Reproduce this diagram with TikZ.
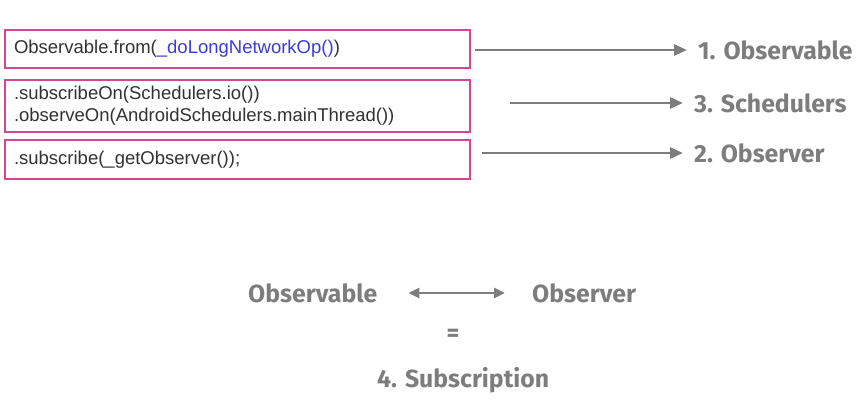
\documentclass[tikz,border=0pt]{standalone}
\usepackage{fontspec}
\setmainfont{Liberation Sans}
\newfontfamily\handfont{Fira Sans}
\usepackage{xcolor}
\usetikzlibrary{arrows.meta,positioning}

\definecolor{boxpink}{RGB}{206,72,150}
\definecolor{codegray}{RGB}{50,50,50}
\definecolor{codeblue}{RGB}{60,60,210}
\definecolor{labelgray}{RGB}{125,125,125}

\begin{document}
\begin{tikzpicture}[
  x=1pt, y=-1pt,
  codebox/.style={draw=boxpink, line width=1.6pt, fill=white, minimum width=465pt, text width=447pt,
    align=left, inner sep=9pt, font=\fontsize{18.5}{22}\selectfont, text=codegray},
  lbl/.style={inner sep=0pt, anchor=west, text=labelgray, font=\handfont\bfseries\fontsize{24.8}{28}\selectfont},
  arr/.style={-{Triangle[length=13pt,width=11pt]}, line width=2.8pt, draw=labelgray}
]
\useasboundingbox (0,0) rectangle (859,415);

% code boxes
\node[codebox, minimum height=38pt] (from) at (237.5,49) {Observable.from({\color{codeblue}\_doLongNetworkOp()})};
\node[codebox, inner ysep=4pt, minimum height=52pt] (sched) at (237.5,106) {.subscribeOn(Schedulers.io())\\.observeOn(AndroidSchedulers.mainThread())};
\node[codebox, minimum height=39pt] (subs) at (237.5,159.5) {.subscribe(\_getObserver());};

% labels on the right
\node[lbl] (observable) at (698,50) {1. Observable};
\node[lbl] (schedulers) at (694,103) {3. Schedulers};
\node[lbl] (observer) at (694,153) {2. Observer};

\coordinate (s1) at (475,50);
\coordinate (s2) at (510,103);
\coordinate (s3) at (482,153);
\draw[arr, shorten >=11pt] (s1) -- (observable.west);
\draw[arr, shorten >=11pt] (s2) -- (schedulers.west);
\draw[arr, shorten >=11pt] (s3) -- (observer.west);

% subscription
\node[lbl] (obsl) at (248,293) {Observable};
\node[lbl] (obsr) at (532,293) {Observer};
\node[text=labelgray, font=\handfont\bfseries\fontsize{24.8}{28}\selectfont] (eq) at (453,335) {=};
\node[lbl] (subscr) at (377,380) {4. Subscription};
\draw[arr, {Triangle[length=11pt,width=10pt]}-{Triangle[length=11pt,width=10pt]}, shorten <=31pt, shorten >=27pt] (obsl.east) -- (obsr.west);
\end{tikzpicture}
\end{document}
